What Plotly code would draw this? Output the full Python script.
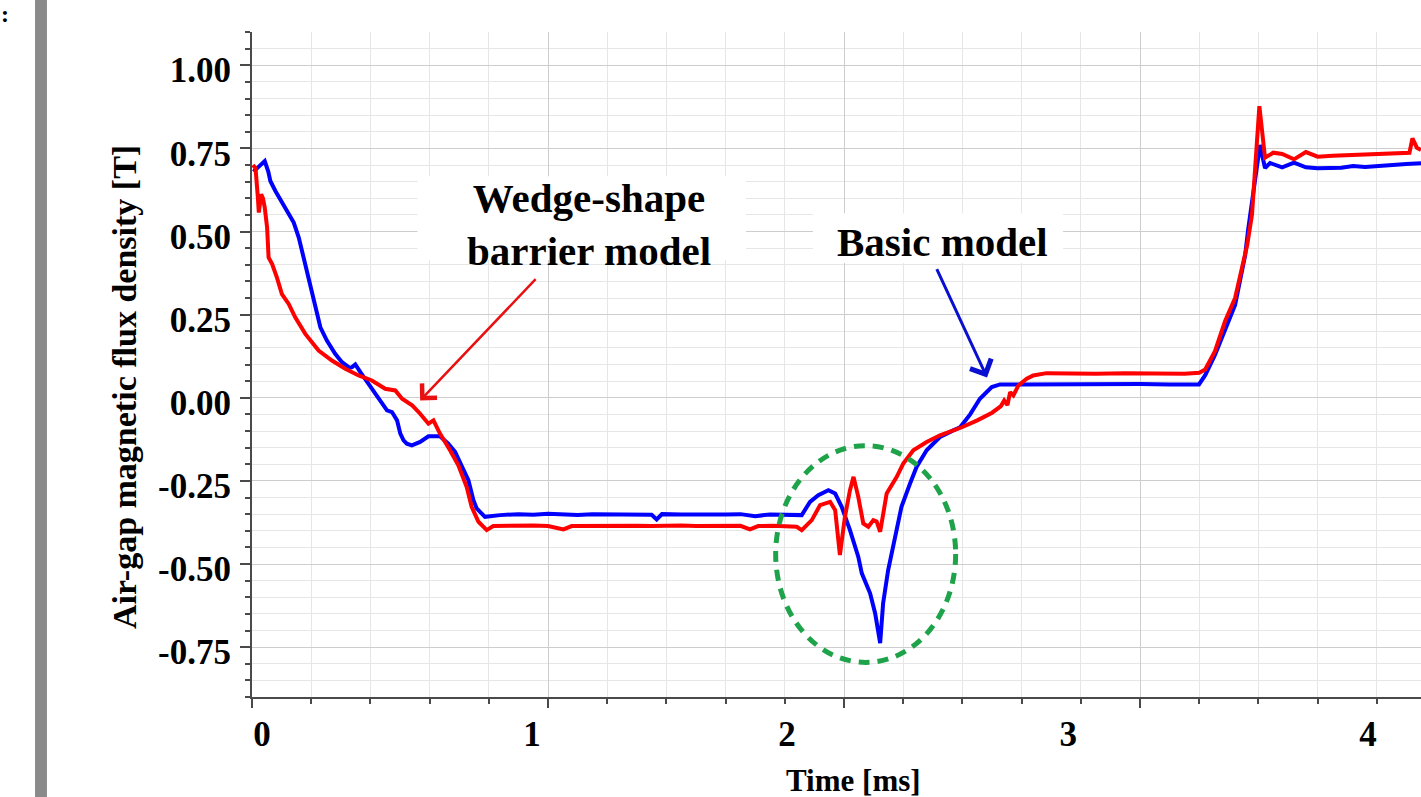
import plotly.graph_objects as go

# ---------------- data (time in ms, flux density in T) ----------------
basic_t = [0.005, 0.030, 0.043, 0.055, 0.062, 0.079, 0.113, 0.141, 0.158, 0.174,
           0.191, 0.208, 0.231, 0.253, 0.281, 0.304, 0.330, 0.338, 0.349, 0.366,
           0.394, 0.428, 0.456, 0.473, 0.490, 0.501, 0.512, 0.523, 0.540, 0.568,
           0.596, 0.635, 0.663, 0.686, 0.708, 0.731, 0.748, 0.759, 0.787, 0.838,
           0.900, 0.950, 1.000, 1.050, 1.100, 1.150, 1.200, 1.250, 1.300, 1.350,
           1.367, 1.385, 1.450, 1.500, 1.550, 1.600, 1.650, 1.700, 1.750, 1.800,
           1.840, 1.857, 1.885, 1.913, 1.947, 1.970, 1.992, 2.020, 2.048, 2.060,
           2.088, 2.105, 2.122, 2.132, 2.149, 2.178, 2.194, 2.223, 2.245, 2.279,
           2.324, 2.369, 2.392, 2.426, 2.459, 2.499, 2.527, 2.600, 2.700, 2.800,
           2.900, 3.000, 3.100, 3.199, 3.220, 3.253, 3.287, 3.321, 3.338, 3.355,
           3.365, 3.378, 3.392, 3.405, 3.422, 3.439, 3.480, 3.520, 3.560, 3.600,
           3.680, 3.720, 3.760, 3.800, 3.850, 3.900, 3.949]
basic_b = [0.680, 0.700, 0.712, 0.680, 0.652, 0.622, 0.572, 0.527, 0.482, 0.422,
           0.352, 0.292, 0.212, 0.172, 0.132, 0.107, 0.090, 0.092, 0.100, 0.077,
           0.042, 0.002, -0.038, -0.043, -0.068, -0.108, -0.128, -0.138, -0.143, -0.133,
           -0.116, -0.116, -0.138, -0.163, -0.208, -0.248, -0.308, -0.333, -0.358, -0.353,
           -0.350, -0.352, -0.349, -0.351, -0.353, -0.350, -0.351, -0.352, -0.350, -0.352,
           -0.366, -0.350, -0.351, -0.352, -0.350, -0.351, -0.350, -0.356, -0.351, -0.352,
           -0.353, -0.353, -0.313, -0.293, -0.278, -0.288, -0.328, -0.398, -0.478, -0.528,
           -0.588, -0.648, -0.738, -0.618, -0.518, -0.398, -0.328, -0.258, -0.208, -0.158,
           -0.118, -0.098, -0.089, -0.050, -0.003, 0.032, 0.040, 0.040, 0.041, 0.039,
           0.040, 0.041, 0.040, 0.040, 0.068, 0.129, 0.204, 0.279, 0.354, 0.429,
           0.505, 0.595, 0.685, 0.760, 0.691, 0.706, 0.693, 0.707, 0.693, 0.690,
           0.692, 0.697, 0.694, 0.697, 0.699, 0.703, 0.705]

wedge_t = [0.003, 0.012, 0.020, 0.023, 0.031, 0.037, 0.043, 0.051, 0.056, 0.068,
           0.084, 0.101, 0.124, 0.146, 0.180, 0.225, 0.270, 0.315, 0.360, 0.405,
           0.450, 0.484, 0.507, 0.541, 0.568, 0.596, 0.613, 0.635, 0.669, 0.697,
           0.725, 0.742, 0.765, 0.793, 0.815, 0.850, 0.900, 0.950, 1.000, 1.052,
           1.080, 1.150, 1.200, 1.250, 1.300, 1.350, 1.400, 1.450, 1.500, 1.550,
           1.600, 1.650, 1.682, 1.710, 1.760, 1.800, 1.840, 1.857, 1.891, 1.919,
           1.953, 1.970, 1.986, 2.003, 2.020, 2.032, 2.048, 2.065, 2.082, 2.099,
           2.110, 2.122, 2.132, 2.144, 2.178, 2.200, 2.234, 2.279, 2.324, 2.369,
           2.400, 2.450, 2.500, 2.530, 2.541, 2.552, 2.561, 2.572, 2.589, 2.617,
           2.639, 2.684, 2.750, 2.850, 2.950, 3.050, 3.150, 3.200, 3.220, 3.253,
           3.287, 3.321, 3.345, 3.362, 3.378, 3.390, 3.403, 3.422, 3.450, 3.480,
           3.520, 3.560, 3.600, 3.650, 3.700, 3.750, 3.800, 3.850, 3.880, 3.910,
           3.920, 3.935, 3.949]
wedge_b = [0.700, 0.690, 0.600, 0.557, 0.612, 0.600, 0.572, 0.512, 0.422, 0.402,
           0.362, 0.312, 0.282, 0.242, 0.192, 0.142, 0.112, 0.087, 0.067, 0.052,
           0.027, 0.022, -0.003, -0.023, -0.048, -0.078, -0.068, -0.108, -0.158, -0.203,
           -0.268, -0.328, -0.373, -0.398, -0.386, -0.385, -0.386, -0.384, -0.386, -0.396,
           -0.386, -0.385, -0.386, -0.384, -0.385, -0.386, -0.385, -0.384, -0.386, -0.385,
           -0.386, -0.385, -0.396, -0.386, -0.385, -0.387, -0.388, -0.398, -0.368, -0.323,
           -0.313, -0.338, -0.473, -0.358, -0.278, -0.238, -0.298, -0.378, -0.388, -0.368,
           -0.372, -0.403, -0.348, -0.288, -0.238, -0.198, -0.158, -0.133, -0.113, -0.098,
           -0.088, -0.068, -0.045, -0.025, -0.008, -0.022, 0.017, 0.007, 0.037, 0.057,
           0.067, 0.074, 0.073, 0.072, 0.074, 0.073, 0.072, 0.075, 0.085, 0.140,
           0.230, 0.300, 0.390, 0.460, 0.550, 0.700, 0.877, 0.722, 0.737, 0.733,
           0.717, 0.739, 0.725, 0.728, 0.730, 0.732, 0.735, 0.736, 0.737, 0.737,
           0.780, 0.752, 0.745]

y_tick_vals = [1.0, 0.75, 0.5, 0.25, 0.0, -0.25, -0.5, -0.75]
y_tick_text = ["1.00", "0.75", "0.50", "0.25", "0.00", "-0.25", "-0.50", "-0.75"]
x_label_pos = [0.034, 0.946, 1.807, 2.757, 3.770]
x_label_text = ["0", "1", "2", "3", "4"]

X_RANGE = [0, 3.949]
Y_RANGE = [-0.9, 1.1]
Y_LABEL_DROP = 0.015   # labels sit slightly below their ticks in the original

FONT = "Liberation Serif, Times New Roman, serif"
AXIS_COL = "#4a4a4a"

fig = go.Figure()
fig.add_trace(go.Scatter(x=basic_t, y=basic_b, mode="lines", name="Basic model",
                         line=dict(color="#0000FF", width=4), showlegend=False))
fig.add_trace(go.Scatter(x=wedge_t, y=wedge_b, mode="lines", name="Wedge-shape barrier model",
                         line=dict(color="#FF0000", width=4), showlegend=False))
# invisible traces that bind the label axes
fig.add_trace(go.Scatter(x=[], y=[], xaxis="x2", yaxis="y", showlegend=False, hoverinfo="skip"))
fig.add_trace(go.Scatter(x=[], y=[], xaxis="x", yaxis="y2", showlegend=False, hoverinfo="skip"))

fig.update_layout(
    width=1421, height=797,
    margin=dict(l=252, r=0, t=32, b=100),
    paper_bgcolor="white", plot_bgcolor="white",
    font=dict(family=FONT, color="black"),
    xaxis=dict(
        range=X_RANGE, tick0=0, dtick=1, showticklabels=False,
        showgrid=True, gridcolor="#cdcdcd", gridwidth=1,
        ticks="outside", ticklen=9, tickwidth=1.5, tickcolor=AXIS_COL,
        showline=True, linecolor=AXIS_COL, linewidth=2, zeroline=False,
        automargin=False,
        minor=dict(tickmode="linear", tick0=0, dtick=0.2, showgrid=True,
                   gridcolor="#e6e6e6", gridwidth=1, ticks="outside", ticklen=5,
                   tickwidth=1.5, tickcolor=AXIS_COL),
    ),
    xaxis2=dict(
        range=X_RANGE, overlaying="x", anchor="y", side="bottom",
        tickmode="array", tickvals=x_label_pos, ticktext=x_label_text,
        showgrid=False, ticks="", showline=False, zeroline=False,
        automargin=False,
        tickfont=dict(family=FONT, size=35, color="black", weight="bold"),
        ticklabelstandoff=13,
    ),
    yaxis=dict(
        range=Y_RANGE, tickmode="array", tickvals=y_tick_vals, showticklabels=False,
        showgrid=True, gridcolor="#cdcdcd", gridwidth=1,
        ticks="outside", ticklen=10, tickwidth=1.5, tickcolor=AXIS_COL,
        showline=True, linecolor=AXIS_COL, linewidth=2, zeroline=False,
        automargin=False,
        minor=dict(tickmode="linear", tick0=0, dtick=0.05, showgrid=True,
                   gridcolor="#e6e6e6", gridwidth=1, ticks="outside", ticklen=5,
                   tickwidth=1.5, tickcolor=AXIS_COL),
    ),
    yaxis2=dict(
        range=Y_RANGE, overlaying="y", anchor="x", side="left",
        tickmode="array", tickvals=[v - Y_LABEL_DROP for v in y_tick_vals],
        ticktext=y_tick_text,
        tickfont=dict(family=FONT, size=35, color="black", weight="bold"),
        showgrid=False, ticks="", showline=False, zeroline=False,
        ticklabelstandoff=20, automargin=False,
    ),
)

# white boxes behind annotation labels (between grid and traces)
fig.add_shape(type="rect", xref="x", yref="y", layer="between",
              x0=0.559, x1=1.669, y0=0.414, y1=0.666,
              fillcolor="white", line=dict(width=0))
fig.add_shape(type="rect", xref="x", yref="y", layer="between",
              x0=1.895, x1=2.740, y0=0.405, y1=0.555,
              fillcolor="white", line=dict(width=0))

# dashed green ellipse highlighting the dip
fig.add_shape(type="circle", xref="x", yref="y",
              x0=1.769, x1=2.377, y0=-0.796, y1=-0.144,
              line=dict(color="#1FA34A", width=5, dash="11px,8px"))

# left grey bar
fig.add_shape(type="rect", xref="paper", yref="paper",
              x0=-0.1856, x1=-0.1754, y0=-0.16, y1=1.06,
              fillcolor="#8a8a8a", line=dict(width=0))

# text labels
fig.add_annotation(x=1.139, y=0.522, xref="x", yref="y", showarrow=False,
                   text="Wedge-shape<br>barrier model", align="center",
                   font=dict(family=FONT, size=41, color="black", weight="bold"))
fig.add_annotation(x=2.334, y=0.468, xref="x", yref="y", showarrow=False,
                   text="Basic model",
                   font=dict(family=FONT, size=41, color="black", weight="bold"))

# arrows
fig.add_annotation(x=0.568, y=-0.008, ax=0.963, ay=0.361, xref="x", yref="y",
                   axref="x", ayref="y", text="", showarrow=True,
                   arrowhead=4, arrowsize=1.6, arrowwidth=2.5, arrowcolor="#E81010")
fig.add_annotation(x=2.483, y=0.061, ax=2.311, ay=0.391, xref="x", yref="y",
                   axref="x", ayref="y", text="", showarrow=True,
                   arrowhead=4, arrowsize=1.5, arrowwidth=3, arrowcolor="#0A10D0")

# axis titles
fig.add_annotation(x=-0.1086, y=0.4662, xref="paper", yref="paper", showarrow=False,
                   text="Air-gap magnetic flux density [T]", textangle=-90,
                   xanchor="center", yanchor="middle",
                   font=dict(family=FONT, size=34, color="black", weight="bold"))
fig.add_annotation(x=(853 - 252) / 1169, y=-0.1534, xref="paper", yref="paper",
                   showarrow=False, text="Time [ms]", xanchor="center", yanchor="bottom",
                   borderpad=0,
                   font=dict(family=FONT, size=31, color="black", weight="bold"))

# fragment at the top-left corner
fig.add_annotation(x=-0.2156, y=1.0481, xref="paper", yref="paper", showarrow=False,
                   text=":", xanchor="left", yanchor="top", borderpad=0,
                   font=dict(family=FONT, size=24, color="black", weight="bold"))

fig.write_html("out.html", config={"displayModeBar": False},
               post_script="document.body.style.margin='0px';document.body.style.overflow='hidden';")
